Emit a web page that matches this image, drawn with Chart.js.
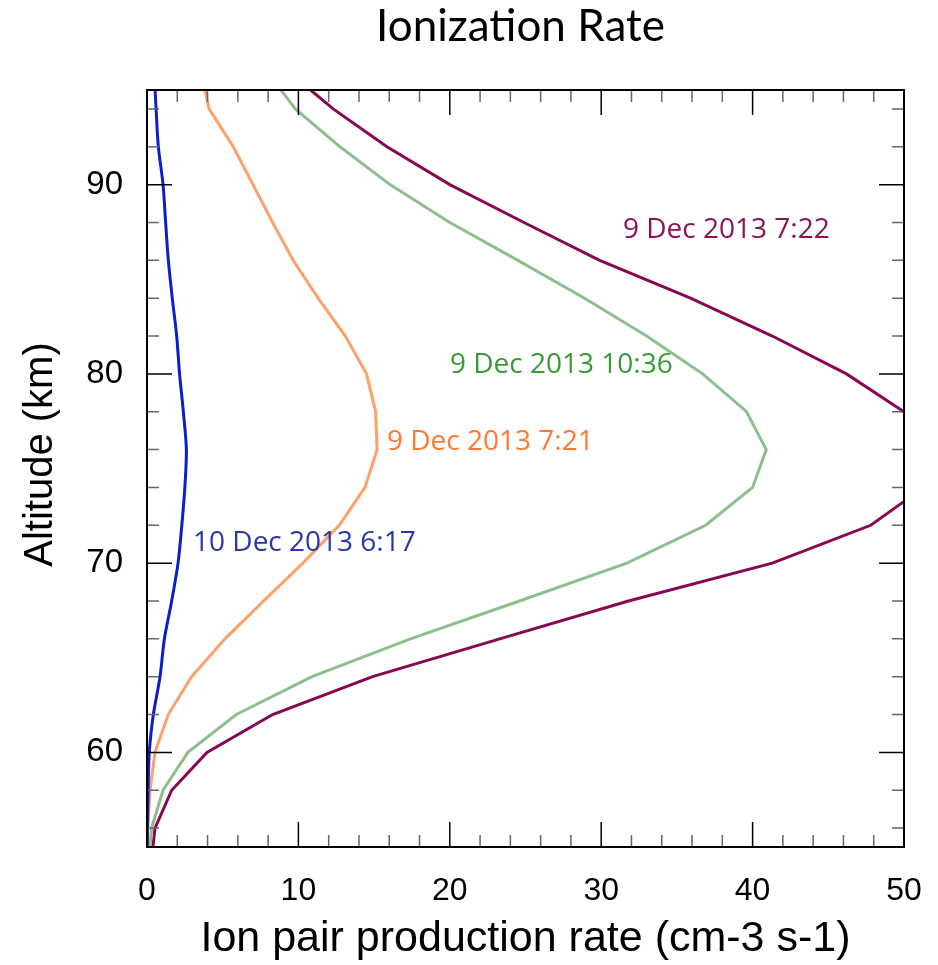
<!DOCTYPE html>
<html>
<head>
<meta charset="utf-8">
<title>Ionization Rate</title>
<script src="https://cdn.jsdelivr.net/npm/chart.js@4.4.1/dist/chart.umd.min.js"></script>
<style>
  html, body { margin: 0; padding: 0; background: #fff; }
</style>
</head>
<body>
<canvas id="ion_chart" width="938" height="965"></canvas>
<script>
// altitude levels (km) and ion pair production rate (cm-3 s-1) for each profile
const altitudes = [54, 56, 58, 60, 62, 64, 66, 68, 70, 72, 74, 76, 78, 80, 82, 84, 86, 88, 90, 92, 94, 96];
const rate_10dec_0617 = [0, 0.03, 0.08, 0.15, 0.42, 0.86, 1.15, 1.63, 2.05, 2.3, 2.5, 2.6, 2.4, 2.15, 1.96, 1.67, 1.41, 1.23, 1.06, 0.75, 0.6, 0.47];
const rate_9dec_0721  = [0.01, 0.05, 0.2, 0.53, 1.4, 2.95, 5.15, 7.7, 10.3, 12.7, 14.4, 15.2, 15.1, 14.5, 13.1, 11.3, 9.65, 8.3, 7.0, 5.7, 4.1, 3.55];
const rate_9dec_1036  = [0.1, 0.3, 1.06, 2.7, 5.9, 10.9, 17.4, 24.6, 31.7, 36.9, 40.0, 40.9, 39.6, 36.7, 33.0, 28.9, 24.5, 20.0, 16.05, 12.75, 9.8, 7.9];
const rate_9dec_0722  = [0.25, 0.53, 1.63, 3.96, 8.3, 14.9, 23.3, 31.8, 41.3, 47.8, 51.3, 53.5, 50.0, 46.2, 41.3, 35.9, 29.9, 24.9, 20.0, 15.85, 12.3, 9.3];

const seriesNames = ['10 Dec 2013 6:17', '9 Dec 2013 7:21', '9 Dec 2013 10:36', '9 Dec 2013 7:22'];
const lineColors  = ['#0a1fc9', '#ffa06a', '#8dbf8d', '#870850'];
const textColors  = ['#2a37a6', '#ff7a30', '#3a9a35', '#8c1456'];
// where each name is written (rate, altitude of the baseline)
const labelX = [3.04, 15.85, 20.01, 31.44];
const labelY = [70.62, 76.0, 80.02, 87.16];

const xTicks = [0, 10, 20, 30, 40, 50];
const xMinor = [2, 4, 6, 8, 12, 14, 16, 18, 22, 24, 26, 28, 32, 34, 36, 38, 42, 44, 46, 48];
const yTicks = [60, 70, 80, 90];
const yMinor = [56, 58, 62, 64, 66, 68, 72, 74, 76, 78, 82, 84, 86, 88, 92, 94];

const allRates = [rate_10dec_0617, rate_9dec_0721, rate_9dec_1036, rate_9dec_0722];

const datasets = allRates.map((rates, i) => ({
  label: seriesNames[i],
  data: altitudes.map((h, k) => ({ x: rates[k], y: h })),
  borderColor: lineColors[i],
  borderWidth: 3,
  pointRadius: 0,
  fill: false,
  tension: i === 0 ? 0.3 : 0
}));

// inward ticks on all four sides, the box, the names and the titles
const framePlugin = {
  id: 'framePlugin',
  afterDatasetsDraw(chart) {
    const { ctx, chartArea: a, scales: { x, y } } = chart;
    ctx.save();
    ctx.lineWidth = 1.5;

    ctx.strokeStyle = '#666';
    ctx.beginPath();
    xMinor.forEach(v => {
      const px = x.getPixelForValue(v);
      ctx.moveTo(px, a.bottom); ctx.lineTo(px, a.bottom - 12);
      ctx.moveTo(px, a.top); ctx.lineTo(px, a.top + 12);
    });
    yMinor.forEach(v => {
      const py = y.getPixelForValue(v);
      ctx.moveTo(a.left, py); ctx.lineTo(a.left + 12, py);
      ctx.moveTo(a.right, py); ctx.lineTo(a.right - 12, py);
    });
    ctx.stroke();

    ctx.strokeStyle = '#000';
    ctx.beginPath();
    xTicks.forEach(v => {
      const px = x.getPixelForValue(v);
      ctx.moveTo(px, a.bottom); ctx.lineTo(px, a.bottom - 25);
      ctx.moveTo(px, a.top); ctx.lineTo(px, a.top + 25);
    });
    yTicks.forEach(v => {
      const py = y.getPixelForValue(v);
      ctx.moveTo(a.left, py); ctx.lineTo(a.left + 25, py);
      ctx.moveTo(a.right, py); ctx.lineTo(a.right - 25, py);
    });
    ctx.stroke();

    ctx.lineWidth = 2;
    ctx.strokeRect(a.left, a.top, a.right - a.left, a.bottom - a.top);

    ctx.font = '28px "Open Sans"';
    ctx.textAlign = 'left';
    ctx.textBaseline = 'alphabetic';
    seriesNames.forEach((name, i) => {
      ctx.fillStyle = textColors[i];
      ctx.fillText(name, x.getPixelForValue(labelX[i]), y.getPixelForValue(labelY[i]));
    });
    ctx.restore();
  },
  afterDraw(chart) {
    const { ctx, chartArea: a } = chart;
    ctx.save();
    ctx.fillStyle = '#000';
    ctx.textAlign = 'center';
    ctx.textBaseline = 'alphabetic';
    ctx.font = '44px Lato';
    ctx.fillText('Ionization Rate', (a.left + a.right) / 2 - 5, 41);

    ctx.font = '40px "Liberation Sans"';
    ctx.translate(52, (a.top + a.bottom) / 2 - 14);
    ctx.rotate(-Math.PI / 2);
    ctx.fillText('Altitude (km)', 0, 0);
    ctx.restore();
  }
};

const ctx_ion = document.getElementById('ion_chart').getContext('2d');
const ionChart = new Chart(ctx_ion, {
  type: 'line',
  data: { datasets: datasets },
  options: {
    responsive: false,
    animation: false,
    layout: { padding: { top: 90, right: 34, left: 0, bottom: 0 } },
    plugins: {
      legend: { display: false },
      tooltip: { enabled: false },
      title: { display: false }
    },
    scales: {
      x: {
        type: 'linear',
        min: 0,
        max: 50,
        afterBuildTicks: s => { s.ticks = xTicks.map(v => ({ value: v })); },
        afterFit: s => { s.height = 118; s.paddingLeft = 0; s.paddingRight = 18; },
        grid: { display: false, drawTicks: false },
        border: { display: false },
        ticks: {
          color: '#000',
          padding: 25,
          maxRotation: 0,
          font: { family: 'Liberation Sans', size: 32 }
        },
        title: {
          display: true,
          text: 'Ion pair production rate (cm-3 s-1)',
          color: '#000',
          padding: 0,
          font: { family: 'Liberation Sans', size: 43 }
        }
      },
      y: {
        type: 'linear',
        min: 55,
        max: 95,
        afterBuildTicks: s => { s.ticks = yTicks.map(v => ({ value: v })); },
        afterFit: s => { s.width = 147; s.paddingTop = 0; s.paddingBottom = 0; },
        grid: { display: false, drawTicks: false },
        border: { display: false },
        ticks: {
          color: '#000',
          padding: 24,
          font: { family: 'Liberation Sans', size: 33 }
        }
      }
    }
  },
  plugins: [framePlugin]
});
</script>
</body>
</html>
